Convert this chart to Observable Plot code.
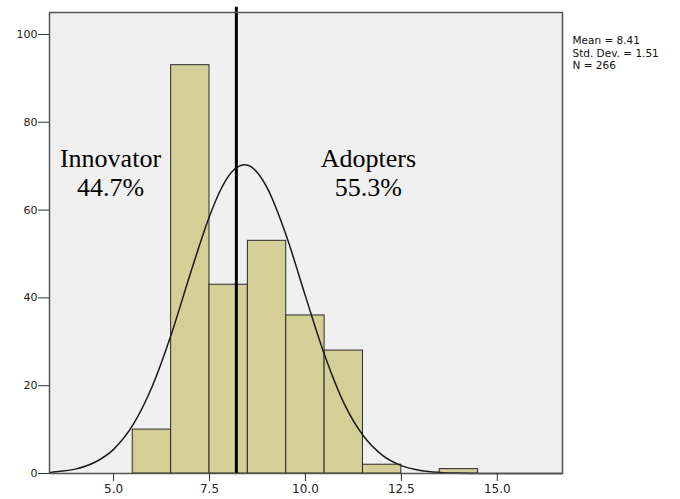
<!DOCTYPE html>
<html>
<head>
<meta charset="utf-8">
<script src="https://cdn.jsdelivr.net/npm/d3@7"></script>
<script src="https://cdn.jsdelivr.net/npm/@observablehq/plot@0.6"></script>
<style>
  html, body { margin: 0; padding: 0; background: white; }
</style>
</head>
<body>
<div id="chart"></div>
<script>
// Histogram bins (lower edge, upper edge) and counts
const binStart = [5.5, 6.5, 7.5, 8.5, 9.5, 10.5, 11.5, 12.5, 13.5];
const binEnd   = [6.5, 7.5, 8.5, 9.5, 10.5, 11.5, 12.5, 13.5, 14.5];
const counts   = [10, 93, 43, 53, 36, 28, 2, 0, 1];

// Fitted normal curve
const curveX = [3.33, 3.5, 4, 4.5, 5, 5.5, 6, 6.5, 7, 7.5, 7.75, 8, 8.25, 8.41, 8.5, 8.75, 9, 9.5, 10, 10.5, 11, 11.5, 12, 12.5, 13, 13.5, 14, 14.5, 15, 16, 16.7];
const curveY = [0.2, 0.4, 1.0, 2.5, 5.5, 11, 19.7, 31.6, 45.5, 58.6, 63.9, 67.8, 69.9, 70.3, 70.2, 68.5, 65.1, 54.2, 40.4, 27, 16.1, 8.7, 4.2, 1.8, 0.7, 0.24, 0.07, 0.02, 0, 0, 0];

// Divider line value
const divider = [8.2];

// Tick labels
const yTicks = [0, 20, 40, 60, 80, 100];
const xTicks = [5, 7.5, 10, 12.5, 15];

// Text
const groupLabels = ["Innovator", "Adopters"];
const groupShares = ["44.7%", "55.3%"];
const statsLines = ["Mean = 8.41", "Std. Dev. = 1.51", "N = 266"];

const bins = binStart.map((s, i) => ({x1: s, x2: binEnd[i], y: counts[i]})).filter(d => d.y > 0);
const curve = curveX.map((x, i) => ({x, y: curveY[i]}));
const groups = groupLabels.map((label, i) => ({label, share: groupShares[i], x: [4.92, 11.64][i]}));

const chart = Plot.plot({
  width: 680,
  height: 499,
  marginLeft: 49,
  marginRight: 118,
  marginTop: 12,
  marginBottom: 26,
  style: {fontFamily: "DejaVu Sans", background: "white", color: "#222"},
  x: {domain: [3.33, 16.7]},
  y: {domain: [0, 105]},
  marks: [
    Plot.frame({fill: "#f0f0f0", stroke: null}),
    Plot.rectY(bins, {x1: "x1", x2: "x2", y: "y", fill: "#d4cf96", stroke: "#2a2a2a", strokeWidth: 1}),
    Plot.line(curve, {x: "x", y: "y", curve: "monotone-x", stroke: "#1a1a1a", strokeWidth: 1.5}),
    Plot.ruleX(divider, {y1: 0, y2: 106.2, stroke: "black", strokeWidth: 3}),
    Plot.text(groups, {x: "x", y: 69.8, text: "label", lineAnchor: "bottom", fontFamily: "Liberation Serif", fontSize: 26, fill: "black"}),
    Plot.text(groups, {x: "x", y: 63.3, text: "share", lineAnchor: "bottom", fontFamily: "Liberation Serif", fontSize: 26, fill: "black"}),
    Plot.frame({stroke: "#555", strokeWidth: 1.5}),
    Plot.axisY({ticks: yTicks, tickSize: 11, tickPadding: 1, fontSize: 11, stroke: "#333", label: null}),
    Plot.axisX({ticks: xTicks, tickFormat: d3.format(".1f"), tickSize: 8, tickPadding: 3, fontSize: 12, stroke: "#333", label: null}),
    Plot.text([statsLines.join("\n")], {frameAnchor: "top-right", textAnchor: "start", lineAnchor: "top", dx: 10, dy: 23, lineHeight: 1.17, fontSize: 10.5, fill: "#111"})
  ]
});
document.getElementById("chart").appendChild(chart);
</script>
</body>
</html>
